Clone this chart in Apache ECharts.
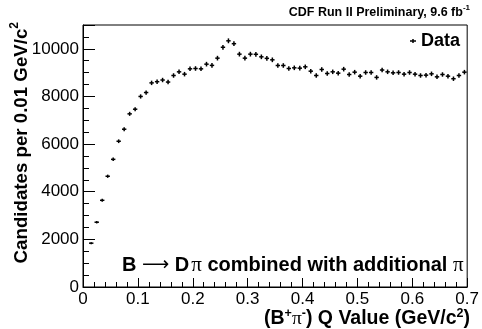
<!DOCTYPE html>
<html><head><meta charset="utf-8">
<script src="https://cdn.jsdelivr.net/npm/echarts@6/dist/echarts.min.js"></script>
<style>html,body{margin:0;padding:0;background:#fff}#c{width:482px;height:329px}</style>
</head><body><div id="c"></div>
<script>
// Bin centres of the (B+ pi-) Q value, GeV/c^2
const qValues = [0.015,0.025,0.035,0.045,0.055,0.065,0.075,0.085,0.095,0.105,
  0.115,0.125,0.135,0.145,0.155,0.165,0.175,0.185,0.195,0.205,
  0.215,0.225,0.235,0.245,0.255,0.265,0.275,0.285,0.295,0.305,
  0.315,0.325,0.335,0.345,0.355,0.365,0.375,0.385,0.395,0.405,
  0.415,0.425,0.435,0.445,0.455,0.465,0.475,0.485,0.495,0.505,
  0.515,0.525,0.535,0.545,0.555,0.565,0.575,0.585,0.595,0.605,
  0.615,0.625,0.635,0.645,0.655,0.665,0.675,0.685,0.695];
// Candidates per 0.01 GeV/c^2
const candidates = [1840,2720,3640,4650,5360,6120,6625,7270,7465,8000,
  8165,8570,8620,8690,8605,8880,9034,8936,9160,9174,
  9160,9356,9305,9608,10065,10336,10215,9776,9608,9776,
  9770,9664,9600,9538,9300,9300,9174,9202,9188,9244,
  9062,8880,9132,8964,9034,8978,9146,8922,9020,8852,
  9006,9006,8800,9110,9034,8992,9006,8936,9006,8936,
  8880,8894,8950,8824,8922,8852,8745,8880,9020];
// Vertical error bars
const errors = [43,52,60,68,73,78,81,85,86,89,
  90,93,93,93,93,94,95,95,96,96,
  96,97,96,98,100,102,101,99,98,99,
  99,98,98,98,96,96,96,96,96,96,
  95,94,96,95,95,95,96,94,95,94,
  95,95,94,95,95,95,95,95,95,95,
  94,94,95,94,94,94,94,94,95];
const binHalfWidth = 0.004;
const xRange = [0, 0.7];
const yRange = [0, 11000];

const FONT = "'Liberation Sans', Arial, Helvetica, sans-serif";
const SERIF = "'Liberation Serif', 'Times New Roman', serif";
const chart = echarts.init(document.getElementById('c'), null, {renderer: 'canvas'});

const points = qValues.map((q, i) => [q, candidates[i], errors[i]]);

const option = {
  backgroundColor: '#fff',
  animation: false,
  grid: {left: 83, right: 12, top: 25, bottom: 42, show: true, borderColor: '#000', borderWidth: 1, backgroundColor: 'transparent'},
  xAxis: [
    {type: 'value', min: xRange[0], max: xRange[1], interval: 0.1, position: 'bottom',
     axisLine: {show: true, onZero: false, lineStyle: {color: '#000', width: 1}},
     axisTick: {show: true, inside: true, length: 9, lineStyle: {color: '#000'}},
     axisLabel: {color: '#000', fontSize: 17, fontFamily: FONT, margin: 4},
     splitLine: {show: false}},
    {type: 'value', min: xRange[0], max: xRange[1], interval: 0.02, position: 'bottom',
     axisLine: {show: false, onZero: false},
     axisTick: {show: true, inside: true, length: 5, lineStyle: {color: '#000'}},
     axisLabel: {show: false}, splitLine: {show: false}}
  ],
  yAxis: [
    {type: 'value', min: yRange[0], max: yRange[1], interval: 2000, position: 'left',
     axisLine: {show: true, onZero: false, lineStyle: {color: '#000', width: 1}},
     axisTick: {show: true, inside: true, length: 12, lineStyle: {color: '#000'}},
     axisLabel: {color: '#000', fontSize: 17, fontFamily: FONT, margin: 4,
       formatter: v => (v > 10000 ? '' : String(v))},
     splitLine: {show: false}},
    {type: 'value', min: yRange[0], max: yRange[1], interval: 500, position: 'left',
     axisLine: {show: false, onZero: false},
     axisTick: {show: true, inside: true, length: 6, lineStyle: {color: '#000'}},
     axisLabel: {show: false}, splitLine: {show: false}}
  ],
  series: [{
    type: 'custom', name: 'Data', xAxisIndex: 0, yAxisIndex: 0,
    data: points,
    renderItem: function (params, api) {
      const x = api.value(0), y = api.value(1), e = api.value(2);
      const l = api.coord([x - binHalfWidth, y]), r = api.coord([x + binHalfWidth, y]);
      const t = api.coord([x, y + e]), b = api.coord([x, y - e]);
      return {type: 'group', children: [
        {type: 'line', shape: {x1: l[0], y1: l[1], x2: r[0], y2: r[1]}, style: {stroke: '#000', lineWidth: 1.5}},
        {type: 'line', shape: {x1: t[0], y1: t[1], x2: b[0], y2: b[1]}, style: {stroke: '#000', lineWidth: 1.5}}
      ]};
    }
  }],
  graphic: [
    {type: 'text', right: 12, top: 4, style: {
      text: '{b|CDF Run II Preliminary, 9.6 fb}{s|-1}',
      rich: {b: {fontSize: 12.5, fontWeight: 'bold', fontFamily: FONT, fill: '#000', verticalAlign: 'bottom', lineHeight: 15},
             s: {fontSize: 8, fontWeight: 'bold', fontFamily: FONT, fill: '#000', verticalAlign: 'top', lineHeight: 15}}}},
    {type: 'text', x: 20, y: 22, rotation: Math.PI / 2, style: {
      text: '{b|Candidates per 0.01 GeV/c}{s|2}', align: 'right', verticalAlign: 'middle',
      rich: {b: {fontSize: 18.7, fontWeight: 'bold', fontFamily: FONT, fill: '#000', verticalAlign: 'bottom', lineHeight: 22},
             s: {fontSize: 12, fontWeight: 'bold', fontFamily: FONT, fill: '#000', verticalAlign: 'top', lineHeight: 22}}}},
    {type: 'text', x: 470, y: 318, style: {
      text: '{b|(B}{s|+}{p|π}{s|-}{b|) Q Value (GeV/c}{s|2}{b|)}', align: 'right', verticalAlign: 'middle',
      rich: {b: {fontSize: 19.5, fontWeight: 'bold', fontFamily: FONT, fill: '#000', verticalAlign: 'bottom', lineHeight: 22},
             p: {fontSize: 19.5, fontFamily: SERIF, fill: '#000', verticalAlign: 'bottom', lineHeight: 22},
             s: {fontSize: 12.5, fontWeight: 'bold', fontFamily: FONT, fill: '#000', verticalAlign: 'top', lineHeight: 22}}}},
    {type: 'group', children: [
      {type: 'line', shape: {x1: 410, y1: 41, x2: 416, y2: 41}, style: {stroke: '#000', lineWidth: 1.5}},
      {type: 'line', shape: {x1: 413, y1: 39, x2: 413, y2: 43}, style: {stroke: '#000', lineWidth: 1.5}},
      {type: 'text', x: 421, y: 41, style: {text: 'Data', fontSize: 18, fontWeight: 'bold', fontFamily: FONT, fill: '#000', align: 'left', verticalAlign: 'middle'}}
    ]},
    {type: 'text', x: 122, y: 265, style: {
      text: '{b|B }{a|⟶}{b| D}{q|π}{b| combined with additional }{p|π}', align: 'left', verticalAlign: 'middle',
      rich: {b: {fontSize: 20, fontWeight: 'bold', fontFamily: FONT, fill: '#000', lineHeight: 24},
             a: {fontSize: 19, fontFamily: "'DejaVu Sans', sans-serif", fill: '#000', lineHeight: 24},
             q: {fontSize: 21, fontFamily: SERIF, fill: '#000', lineHeight: 24, padding: [0, 0, 0, 2]},
             p: {fontSize: 21, fontFamily: SERIF, fill: '#000', lineHeight: 24}}}}
  ]
};
chart.setOption(option);
</script>
</body></html>
